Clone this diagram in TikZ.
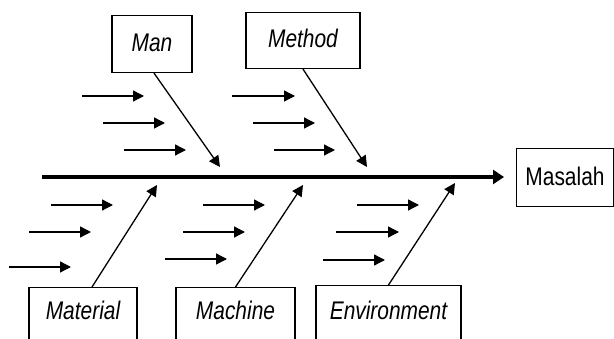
\documentclass[tikz,border=0pt]{standalone}
\usepackage{fontspec}
\newfontfamily\labfont[FakeStretch=0.82]{Liberation Sans}
\usetikzlibrary{arrows.meta}
\begin{document}
\begin{tikzpicture}[x=1pt,y=-1pt,
  box/.style={draw,line width=1.1pt,inner xsep=0pt,inner ysep=0pt,
    font=\labfont\itshape\fontsize{25.5}{30}\selectfont},
  arr/.style={line width=1.3pt,-{Triangle[length=11pt,width=11pt]}},
  spine/.style={line width=4.5pt,-{Triangle[length=11pt,width=14pt]}}]
\clip (0,0) rectangle (614,339);
\fill[white] (0,0) rectangle (614,339);
% spine
\coordinate (s0) at (42,177);
\coordinate (s1) at (504,177);
\draw[spine] (s0) -- (s1);
% boxes
\node[box,anchor=north,minimum width=80pt,text height=36pt,text depth=21pt] (man) at (152,15) {Man};
\node[box,anchor=north,minimum width=114pt,text height=35pt,text depth=21pt] (method) at (303,12) {Method};
\node[box,anchor=north,minimum width=97pt,text height=37pt,text depth=21pt,font=\labfont\fontsize{25.5}{30}\selectfont] (masalah) at (565,148) {Masalah};
\node[box,anchor=north,minimum width=108pt,text height=32pt,text depth=30pt] (material) at (83,287) {Material};
\node[box,anchor=north,minimum width=119pt,text height=32pt,text depth=30pt] (machine) at (235.5,287) {Machine};
\node[box,anchor=north,minimum width=145pt,text height=34pt,text depth=30pt] (environment) at (388.5,285) {Environment};
% diagonal arrows
\coordinate (manend) at (220,167);
\coordinate (methodend) at (367,167);
\coordinate (materialend) at (157,185);
\coordinate (machineend) at (303,185);
\coordinate (environmentend) at (455,183);
\draw[arr] ([xshift=2pt]man.south) -- (manend);
\draw[arr] (method.south) -- (methodend);
\draw[arr] ([xshift=9pt]material.north) -- (materialend);
\draw[arr] (machine.north) -- (machineend);
\draw[arr] (environment.north) -- (environmentend);
% short cause arrows
\foreach \n/\xa/\xb/\y in {
  a1/82/144/96, a2/103/165/123, a3/124/186/150,
  b1/232/295/96, b2/253/315/123, b3/274/335/150,
  c1/51/113/205, c2/29/91/232, c3/9/71/267,
  d1/203/265/205, d2/183/245/232, d3/165/227/259,
  e1/357/419/205, e2/336/399/232, e3/323/385/260}{
  \coordinate (\n s) at (\xa,\y);
  \coordinate (\n e) at (\xb,\y);
  \draw[arr] (\n s) -- (\n e);
}
\end{tikzpicture}
\end{document}
